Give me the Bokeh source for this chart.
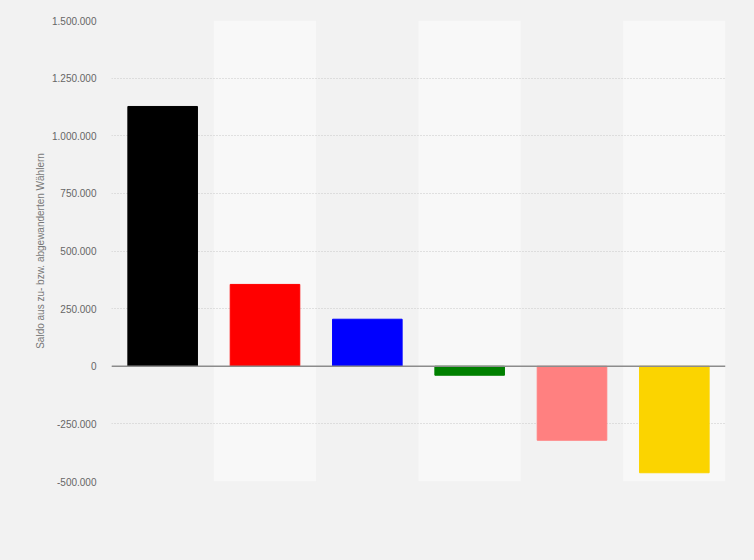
from bokeh.plotting import figure
from bokeh.models import Span, Range1d, FactorRange, CustomJSTickFormatter, FixedTicker, GlobalInlineStyleSheet
from bokeh.embed import file_html
from bokeh.resources import INLINE

# Data
parties = ["CDU/CSU", "SPD", "AfD", "Grüne", "Linke", "FDP"]
saldo = [1127000, 355000, 204000, -39000, -321000, -462000]
bar_colors = ["#000000", "#ff0000", "#0000ff", "#008000", "#ff8080", "#fbd400"]
band_colors = ["#f2f2f2", "#f8f8f8", "#f2f2f2", "#f8f8f8", "#f2f2f2", "#f8f8f8"]
y_ticks = [-500000, -250000, 0, 250000, 500000, 750000, 1000000, 1250000, 1500000]
y_start, y_end = -500000, 1500000

BG = "#f2f2f2"

p = figure(
    x_range=FactorRange(*parties, range_padding=0),
    y_range=Range1d(y_start, y_end),
    frame_width=614, frame_height=461,
    min_border_left=111, min_border_right=21, min_border_top=20, min_border_bottom=71,
    output_backend="svg", toolbar_location=None,
    background_fill_color=BG, border_fill_color=BG,
    outline_line_color=None,
)
p.stylesheets = [GlobalInlineStyleSheet(css="body { background: #f2f2f2; }")]

# alternating column bands
bands = p.vbar(x=parties, top=[y_end] * len(parties), bottom=[y_start] * len(parties),
               width=1.0, fill_color=band_colors, line_color=None)
bands.level = "image"

# bars
p.vbar(x=parties, top=saldo, bottom=0, width=0.68, fill_color=bar_colors,
       line_color=bar_colors, line_width=1)

# zero line
p.add_layout(Span(location=0, dimension="width", line_color="#8c8c8c", line_width=1.5))

# grid
p.xgrid.visible = False
p.ygrid.ticker = FixedTicker(ticks=y_ticks)
p.ygrid.grid_line_color = "#c8c8c8"
p.ygrid.grid_line_dash = "1 2"
p.ygrid.grid_line_width = 1

# axes
p.xaxis.visible = False
ax = p.yaxis[0]
ax.ticker = FixedTicker(ticks=y_ticks)
ax.formatter = CustomJSTickFormatter(code="""
const s = Math.abs(tick).toFixed(0).replace(/\\B(?=(\\d{3})+(?!\\d))/g, '.');
return (tick < 0 ? '-' : '') + s;
""")
ax.axis_line_color = None
ax.major_tick_line_color = None
ax.minor_tick_line_color = None
ax.major_label_standoff = 9
ax.major_label_text_font = "Liberation Sans"
ax.major_label_text_font_size = "10px"
ax.major_label_text_color = "#666666"
ax.axis_label = "Saldo aus zu- bzw. abgewanderten Wählern"
ax.axis_label_text_font = "Liberation Sans"
ax.axis_label_text_font_size = "10px"
ax.axis_label_text_font_style = "normal"
ax.axis_label_text_color = "#777777"
ax.axis_label_standoff = 3

open("out.html", "w").write(file_html(p, INLINE))
